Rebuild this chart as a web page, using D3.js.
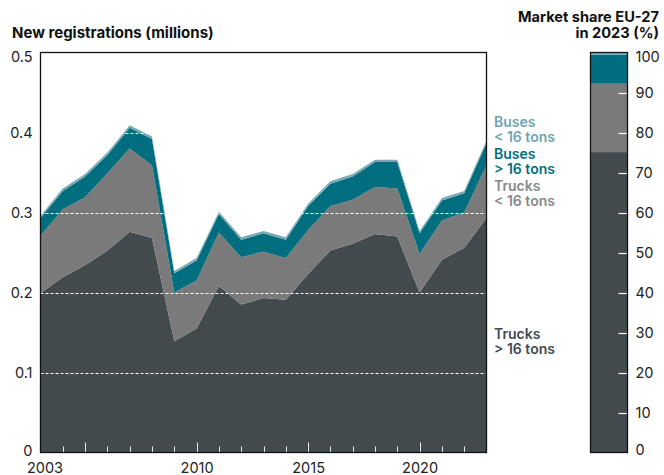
<!DOCTYPE html>
<meta charset="utf-8">
<title>New registrations</title>
<style>
  body { margin: 0; background: #fff; }
  text { font-family: Inter, "Open Sans", sans-serif; }
</style>
<body>
<script src="https://cdn.jsdelivr.net/npm/d3@7"></script>
<script>

// values (millions)
var years = [2003, 2004, 2005, 2006, 2007, 2008, 2009, 2010, 2011, 2012, 2013,
             2014, 2015, 2016, 2017, 2018, 2019, 2020, 2021, 2022, 2023];
var trucksHeavy = [0.199, 0.219, 0.234, 0.2525, 0.276, 0.268, 0.139, 0.155, 0.208, 0.185, 0.193,
                   0.191, 0.223, 0.2525, 0.261, 0.273, 0.270, 0.200, 0.241, 0.256, 0.293];
var trucksLight = [0.072, 0.085, 0.085, 0.0965, 0.104, 0.091, 0.061, 0.060, 0.067, 0.059, 0.058,
                   0.052, 0.055, 0.0555, 0.055, 0.059, 0.060, 0.048, 0.049, 0.044, 0.066];
var busesHeavy = [0.022, 0.023, 0.026, 0.023, 0.026, 0.033, 0.024, 0.025, 0.023, 0.022, 0.023,
                  0.023, 0.030, 0.028, 0.029, 0.031, 0.033, 0.026, 0.025, 0.024, 0.028];
var busesLight = [0.003, 0.003, 0.003, 0.003, 0.003, 0.003, 0.003, 0.003, 0.003, 0.003, 0.003,
                  0.003, 0.003, 0.003, 0.003, 0.003, 0.003, 0.003, 0.003, 0.003, 0.003];

var seriesKeys = ["trucksHeavy", "trucksLight", "busesHeavy", "busesLight"];
var seriesColors = ["#424a4e", "#7a7a7a", "#006e7f", "#7aa7b3"];
var legendLabels = [["Trucks", "> 16 tons"], ["Trucks", "< 16 tons"], ["Buses", "> 16 tons"], ["Buses", "< 16 tons"]];
var legendColors = ["#424a4e", "#888888", "#00707f", "#6fa3b0"];

// market share EU-27 in 2023 (%)
var shares = [75.1, 17.1, 7.3, 0.5];

var yTicks = [0, 0.1, 0.2, 0.3, 0.4, 0.5];
var yearLabels = [2003, 2010, 2015, 2020];
var shareTicks = [0, 10, 20, 30, 40, 50, 60, 70, 80, 90, 100];

var width = 664, height = 475;
var pLeft = 40.5, pRight = 486.5, pTop = 52.5, pBottom = 452.5;

var svg = d3.select("body").append("svg")
    .attr("width", width)
    .attr("height", height);

var x = d3.scaleLinear().domain([2003, 2023]).range([pLeft, pRight]);
var y = d3.scaleLinear().domain([0, 0.5]).range([pBottom, pTop]);

var rows = years.map(function(yr, i) {
  return {year: yr, trucksHeavy: trucksHeavy[i], trucksLight: trucksLight[i],
          busesHeavy: busesHeavy[i], busesLight: busesLight[i]};
});

var stack = d3.stack().keys(seriesKeys);
var layers = stack(rows);

var area = d3.area()
    .x(function(d) { return x(d.data.year); })
    .y0(function(d) { return y(d[0]); })
    .y1(function(d) { return y(d[1]); });

svg.append("g").selectAll("path")
  .data(layers)
  .enter().append("path")
    .attr("d", area)
    .attr("fill", function(d, i) { return seriesColors[i]; });

// dashed white gridlines
svg.append("g").selectAll("line")
  .data(yTicks.filter(function(t) { return t > 0 && t < 0.5; }))
  .enter().append("line")
    .attr("x1", pLeft).attr("x2", pRight)
    .attr("y1", function(d) { return Math.round(y(d)) + 0.5; })
    .attr("y2", function(d) { return Math.round(y(d)) + 0.5; })
    .attr("stroke", "#fff")
    .attr("stroke-width", 1)
    .attr("stroke-dasharray", "3,2");

// year ticks (white, inside the bottom)
svg.append("g").selectAll("line")
  .data(years.slice(1, -1))
  .enter().append("line")
    .attr("x1", function(d) { return Math.round(x(d)) + 0.5; })
    .attr("x2", function(d) { return Math.round(x(d)) + 0.5; })
    .attr("y1", pBottom)
    .attr("y2", function(d) { return pBottom - (d % 5 === 0 ? 10 : 6); })
    .attr("stroke", "#e8e8e8")
    .attr("stroke-width", 1);

// frame
svg.append("rect")
    .attr("x", pLeft).attr("y", pTop)
    .attr("width", pRight - pLeft).attr("height", pBottom - pTop)
    .attr("fill", "none")
    .attr("stroke", "#111")
    .attr("stroke-width", 1.3);

// y labels (top one nudged down like the original)
var yAxis = d3.axisLeft(y).tickValues(yTicks).tickSize(0).tickPadding(8)
    .tickFormat(function(d) { return d === 0 ? "0" : d3.format(".1f")(d); });
svg.append("g")
    .attr("transform", "translate(" + pLeft + ",0)")
    .call(yAxis)
    .call(function(g) { g.select(".domain").remove(); })
    .selectAll("text")
    .attr("font-size", 14.5)
    .attr("fill", "#222")
    .attr("dy", function(d) { return d === 0.5 ? "0.65em" : d === 0 ? "0.2em" : "0.32em"; })
    .style("font-family", "Inter, sans-serif");

// x labels
var xAxis = d3.axisBottom(x).tickValues(yearLabels).tickSize(0).tickPadding(8)
    .tickFormat(d3.format("d"));
svg.append("g")
    .attr("transform", "translate(0," + pBottom + ")")
    .call(xAxis)
    .call(function(g) { g.select(".domain").remove(); })
    .selectAll("text")
    .attr("font-size", 14.5)
    .attr("fill", "#222")
    .attr("dy", "0.85em")
    .attr("dx", function(d) { return d === 2003 ? 4 : 0; })
    .style("font-family", "Inter, sans-serif");

svg.append("text")
    .attr("x", 12).attr("y", 38)
    .attr("font-size", 15)
    .attr("font-weight", 700)
    .attr("fill", "#111")
    .text("New registrations (millions)");

// legend labels at the right of the chart
var legendY = [339, 191, 159, 127];
legendLabels.forEach(function(lines, i) {
  lines.forEach(function(line, j) {
    svg.append("text")
        .attr("x", 494)
        .attr("y", legendY[i] + j * 15)
        .attr("font-size", 14)
        .attr("font-weight", 600)
        .attr("fill", legendColors[i])
        .text(line);
  });
});

// market share bar
var barX = 590.5, barW = 37;
var s = d3.scaleLinear().domain([0, 100]).range([pBottom, pTop]);
var shareStack = [];
var acc = 0;
shares.forEach(function(v, i) { shareStack.push([acc, acc + v, i]); acc += v; });

svg.append("g").selectAll("rect")
  .data(shareStack)
  .enter().append("rect")
    .attr("x", barX)
    .attr("width", barW)
    .attr("y", function(d) { return s(Math.min(d[1], 100)); })
    .attr("height", function(d) { return s(d[0]) - s(Math.min(d[1], 100)); })
    .attr("fill", function(d) { return seriesColors[d[2]]; });

svg.append("g").selectAll("line")
  .data(shareTicks.filter(function(t) { return t > 0 && t < 100; }))
  .enter().append("line")
    .attr("x1", barX + barW - 9).attr("x2", barX + barW)
    .attr("y1", function(d) { return Math.round(s(d)) + 0.5; })
    .attr("y2", function(d) { return Math.round(s(d)) + 0.5; })
    .attr("stroke", "#fff")
    .attr("stroke-width", 1.2);

svg.append("rect")
    .attr("x", barX).attr("y", pTop)
    .attr("width", barW).attr("height", pBottom - pTop)
    .attr("fill", "none")
    .attr("stroke", "#111")
    .attr("stroke-width", 1.3);

svg.append("g").selectAll("text")
  .data(shareTicks)
  .enter().append("text")
    .attr("x", barX + barW + 8)
    .attr("y", function(d) { return s(d); })
    .attr("dy", function(d) { return d === 100 ? "0.65em" : d === 0 ? "0.15em" : "0.35em"; })
    .attr("font-size", 14.5)
    .attr("fill", "#222")
    .text(function(d) { return d; });

svg.append("text")
    .attr("x", 659).attr("y", 22)
    .attr("text-anchor", "end")
    .attr("font-size", 14.6)
    .attr("font-weight", 700)
    .attr("fill", "#111")
    .text("Market share EU-27");
svg.append("text")
    .attr("x", 659).attr("y", 38)
    .attr("text-anchor", "end")
    .attr("font-size", 14.6)
    .attr("font-weight", 700)
    .attr("fill", "#111")
    .text("in 2023 (%)");

</script>
